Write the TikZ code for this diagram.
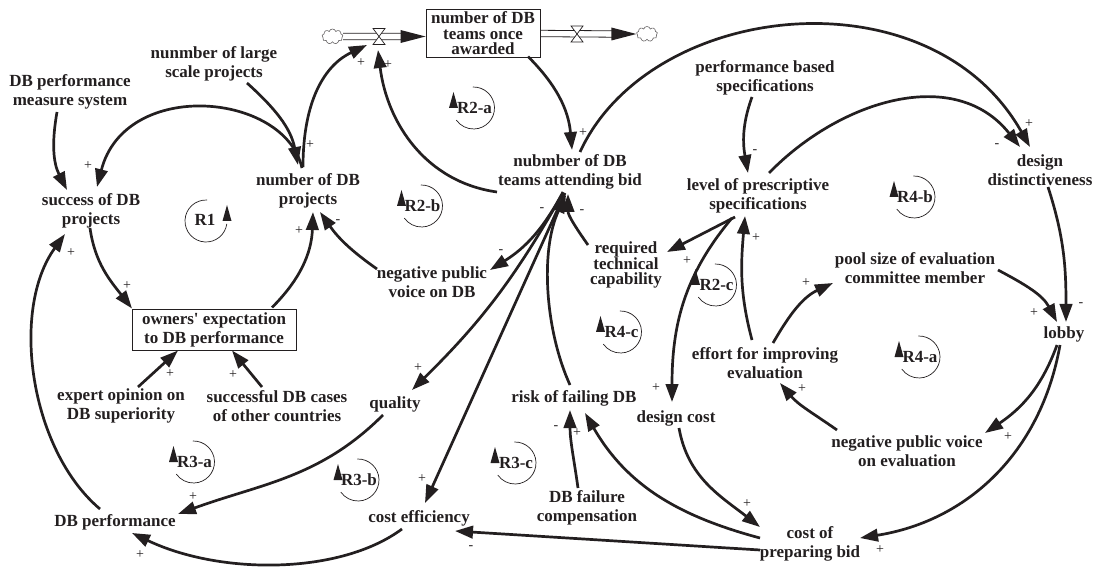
\documentclass[tikz,border=0pt]{standalone}
\usepackage{fontspec}
\setmainfont{Liberation Serif}[Ligatures=TeXOff]
\usetikzlibrary{arrows.meta,calc,shapes.symbols}
\definecolor{ink}{HTML}{231F20}

\tikzset{
  var/.style={font=\bfseries\fontsize{17}{19}\selectfont, text=ink, align=center, inner sep=1pt},
  tightvar/.style={var, font=\bfseries\fontsize{17}{15}\selectfont},
  stockbox/.style={var, draw=ink, line width=0.9pt, inner sep=2pt},
  link/.style={draw=ink, line width=2.7pt, -{Triangle[length=18pt,width=12.5pt]}},
  pipeline/.style={draw=ink, line width=0.8pt},
  sgn/.style={font=\fontsize{14}{14}\selectfont, text=ink, inner sep=0pt},
  puff/.style={cloud, cloud puffs=9, draw=ink!70, line width=0.6pt,
    minimum width=21pt, minimum height=15pt, inner sep=0pt, aspect=1.4},
  % clockwise loop marker, arrowhead on the left
  cwloop/.pic={
    \draw[ink, line width=0.7pt] (92:21) arc[start angle=92, end angle=-145, radius=21];
    \fill[ink] (-20,16) -- (-24.5,0) -- (-15.5,0) -- cycle;
    \node[var, inner sep=0pt] (-lbl) at (1,0) {#1};
  },
  % counter-clockwise loop marker, arrowhead on the right
  ccwloop/.pic={
    \draw[ink, line width=0.7pt] (87:21) arc[start angle=87, end angle=352, radius=21];
    \fill[ink] (21,16) -- (16.5,0) -- (25.5,0) -- cycle;
    \node[var, inner sep=0pt] (-lbl) at (-1,1) {#1};
  },
  valve/.pic={
    \filldraw[fill=white, draw=ink, line width=0.7pt]
      (-6,8) -- (6,8) -- (-6,-8) -- (6,-8) -- cycle;
  },
}

\begin{document}
\begin{tikzpicture}[x=1pt,y=1pt]
\useasboundingbox (0,0) rectangle (1095,-569);

% ---- variables ----
\node[var] (msys) at (70,-92) {DB performance\\measure system};
\node[var] (large) at (214,-64) {nunmber of large\\scale projects};
\node[stockbox, minimum width=114pt, minimum height=48pt, inner sep=1pt,
      font=\bfseries\fontsize{17}{15.5}\selectfont] (tob) at (483,-33.5)
      {number of DB\\teams once\\awarded};
\node[var] (succ) at (91,-211) {success of DB\\projects};
\node[var] (ndbp) at (308,-191) {number of DB\\projects};
\node[stockbox, minimum width=164pt, minimum height=41pt] (owners) at (214,-329.5)
      {owners' expectation\\to DB performance};
\node[var] (expert) at (121,-406) {expert opinion on\\DB superiority};
\node[var] (cases) at (277,-406) {successful DB cases\\of other countries};
\node[var] (dbperf) at (115,-522) {DB performance};
\node[var] (quality) at (395,-404) {quality};
\node[var] (costeff) at (419,-518) {cost efficiency};
\node[var] (tab) at (570,-172) {nubmber of DB\\teams attending bid};
\node[var] (lps) at (758,-196) {level of prescriptive\\specifications};
\node[var] (pbs) at (765,-78) {performance based\\specifications};
\node[var] (dd) at (1040,-170) {design\\distinctiveness};
\node[tightvar] (rtc) at (626,-265) {required\\technical\\capability};
\node[var] (npvdb) at (432,-282) {negative public\\voice on DB};
\node[var] (pool) at (915,-268) {pool size of evaluation\\committee member};
\node[var] (lobby) at (1064,-334) {lobby};
\node[var] (effort) at (765,-363) {effort for improving\\evaluation};
\node[var] (risk) at (574,-398) {risk of failing DB};
\node[var] (dcost) at (676,-418) {design cost};
\node[var] (npve) at (907,-451) {negative public voice\\on evaluation};
\node[var] (comp) at (587,-508) {DB failure\\compensation};
\node[var] (cpb) at (810,-544) {cost of\\preparing bid};

% ---- flows into and out of the stock ----
\coordinate (v1) at (379,-36.5);
\coordinate (v2) at (577,-34);
\node[puff] (cl1) at (332.5,-36.5) {};
\node[puff] (cl2) at (647,-34) {};
\draw[pipeline] ($(cl1.east)+(0,3.3)$) -- ($(tob.west)+(-24,0.3)$);
\draw[pipeline] ($(cl1.east)+(0,-3.3)$) -- ($(tob.west)+(-24,-6.3)$);
\fill[ink] ($(tob.west)+(0,-3)$) -- ($(tob.west)+(-25,3.5)$) -- ($(tob.west)+(-25,-9.5)$) -- cycle;
\pic at (v1) {valve};
\draw[pipeline] ($(tob.east)+(0,3.2)$) -- ($(cl2.west)+(-24,3.2)$);
\draw[pipeline] ($(tob.east)+(0,-3.2)$) -- ($(cl2.west)+(-24,-3.2)$);
\fill[ink] (cl2.west) -- ($(cl2.west)+(-25,6.5)$) -- ($(cl2.west)+(-25,-6.5)$) -- cycle;
\pic at (v2) {valve};

% ---- causal links ----
\draw[link] ($(msys)+(-13,-20)$) to[out=-100,in=117] ($(succ)+(-24,21)$);
\draw[link] ($(ndbp)+(-6,23)$) .. controls (285,-92) and (125,-78) .. ($(succ)+(6,24)$);
\draw[link] ($(large)+(33,-19)$) to[out=-42,in=101] ($(ndbp)+(-10,26)$);
\draw[link] ($(ndbp)+(-5,24)$) .. controls (303,-100) and (325,-65) .. ($(v1)+(-12,-8.5)$);
\draw[link] ($(tab)+(-73,-20)$) to[out=172,in=-83] ($(v1)+(-1,-13.5)$);
\draw[link] ($(tob)+(45,-23)$) to[out=-45,in=95] ($(tab)+(2,22)$);
\draw[link] ($(tab)+(10,20)$) .. controls (650,0) and (930,30) .. ($(dd)+(-10,23)$);
\draw[link] ($(lps)+(11,23)$) .. controls (840,-100) and (955,-65) .. ($(dd)+(-20,23)$);
\draw[link] ($(pbs)+(-13,-19)$) to[out=-110,in=100] ($(lps)+(-10,23)$);
\draw[link] ($(dd)+(8,-17)$) to[out=-72,in=90] ($(lobby)+(2,12)$);
\draw[link] ($(pool)+(83,-2)$) to[out=-28,in=118] ($(lobby)+(-7,12)$);
\draw[link] ($(effort)+(8,20)$) to[out=60,in=205] ($(pool)+(-82,-15)$);
\draw[link] ($(effort)+(-13,23)$) to[out=105,in=-95] ($(lps)+(-13,-20)$);
\draw[link] ($(lps)+(-23,-21)$) -- ($(rtc)+(41,13)$);
\draw[link] ($(lps)+(-26,-22)$) to[out=-130,in=90] ($(dcost)+(-4,16)$);
\draw[link] ($(rtc)+(-38,20)$) to[out=125,in=-90] ($(tab)+(-2,-22)$);
\draw[link] ($(tab)+(-7,-20)$) to[out=-118,in=32] ($(npvdb)+(58,12)$);
\draw[link] ($(npvdb)+(-55,13)$) to[out=145,in=-55] ($(ndbp)+(12,-21)$);
\draw[link] ($(owners)+(58,22)$) to[out=45,in=-92] ($(ndbp)+(5,-21)$);
\draw[link] ($(succ)+(-1,-17)$) to[out=-82,in=128] ($(owners)+(-82,21)$);
\draw[link] ($(expert)+(17,19)$) -- ($(owners)+(-36,-21)$);
\draw[link] ($(cases)+(-15,19)$) -- ($(owners)+(18,-21)$);
\draw[link] ($(dbperf)+(-15,13)$) .. controls (30,-450) and (10,-310) .. ($(succ)+(-26,-23)$);
\draw[link] ($(tab)+(-7,-21)$) to[bend left=8] ($(quality)+(17,14)$);
\draw[link] ($(quality)+(-12,-11)$) to[out=-135,in=20] ($(dbperf)+(63,8)$);
\draw[link] ($(tab)+(-5,-21)$) -- ($(costeff)+(6,15)$);
\draw[link] ($(risk)+(-4,13)$) .. controls (545,-330) and (540,-250) .. ($(tab)+(-4,-23)$);
\draw[link] ($(comp)+(-9,20)$) to[out=98,in=-90] ($(risk)+(-4,-12)$);
\draw[link] ($(cpb)+(-50,6)$) to[out=165,in=-60] ($(risk)+(11,-15)$);
\draw[link] ($(dcost)+(3,-10)$) to[out=-80,in=142] ($(cpb)+(-50,17)$);
\draw[link] ($(cpb)+(-50,-6)$) -- ($(costeff)+(36,-13)$);
\draw[link] ($(lobby)+(-7,-11)$) to[out=-110,in=34] ($(npve)+(78,18)$);
\draw[link] ($(lobby)+(-4,-11)$) to[out=-100,in=9] ($(cpb)+(50,6)$);
\draw[link] ($(npve)+(-70,21)$) to[out=145,in=-50] ($(effort)+(15,-20)$);
\draw[link] ($(costeff)+(-17,-11)$) .. controls (340,-575) and (220,-575) .. ($(dbperf)+(17,-11)$);

% ---- link polarities ----
\foreach \sx/\sy/\sv [count=\k] in {
  88/166/+, 310/145/+, 361/63/+, 388/65/+, 583/133/+, 1029/124/+,
  997/146/-, 755/152/-, 1081/305/-, 1034/313/+, 806/283/+, 756/238/+,
  687/261/+, 656/388/+, 582/212/-, 501/252/-, 338/222/-, 299/231/+,
  127/286/+, 170/374/+, 233/375/+, 71/253/+, 418/368/+, 193/497/+,
  422/479/+, 542/210/-, 556/428/-, 577/433/+, 747/504/+, 471/548/-,
  1008/437/+, 880/550/+, 802/389/+, 140/555/+}
  \node[sgn] (sign\k) at (\sx,-\sy) {\sv};

% ---- loop markers ----
\pic (r1) at (206,-221) {ccwloop=R1};
\pic (r2a) at (473.5,-108) {cwloop=R2-a};
\pic (r2b) at (421.5,-206) {cwloop=R2-b};
\pic (r2c) at (715.5,-285) {cwloop=R2-c};
\pic (r4b) at (914,-197) {cwloop=R4-b};
\pic (r4c) at (620.5,-332) {cwloop=R4-c};
\pic (r4a) at (919,-357) {cwloop=R4-a};
\pic (r3a) at (193.5,-462) {cwloop=R3-a};
\pic (r3b) at (358,-480) {cwloop=R3-b};
\pic (r3c) at (515,-463) {cwloop=R3-c};

\end{tikzpicture}
\end{document}
